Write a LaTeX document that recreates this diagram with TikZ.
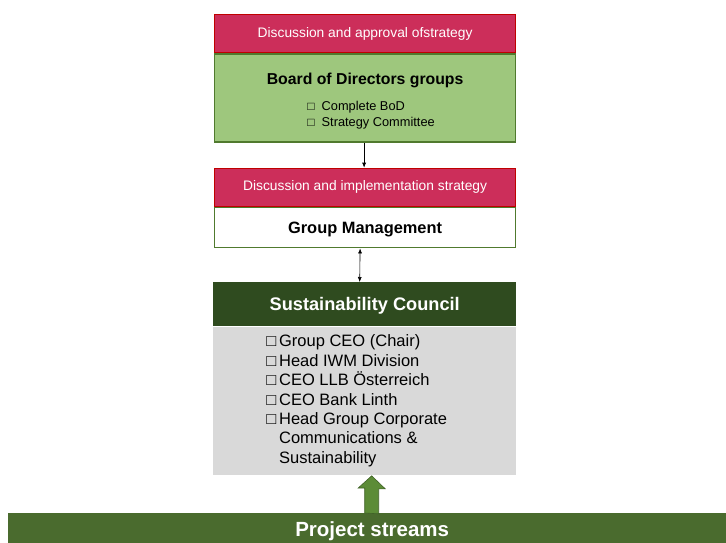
\documentclass[tikz,border=0pt]{standalone}
\usepackage{fontspec}
\setmainfont{Liberation Sans}
\usepackage{xcolor}
\usetikzlibrary{arrows.meta, positioning}

\definecolor{stratred}{RGB}{204,46,90}
\definecolor{stratredline}{RGB}{192,0,0}
\definecolor{bodgreen}{RGB}{158,199,125}
\definecolor{boxline}{RGB}{80,122,46}
\definecolor{councilgreen}{RGB}{47,75,31}
\definecolor{councilgray}{RGB}{217,217,217}
\definecolor{streamgreen}{RGB}{74,107,46}
\definecolor{uparrow}{RGB}{92,140,55}

\begin{document}
\begin{tikzpicture}[
  x=1pt, y=1pt,
  head/.style={draw=stratredline, line width=1.2pt, fill=stratred, text=white, minimum width=301pt, minimum height=38pt, font=\fontsize{13.8}{16}\selectfont},
  body/.style={draw=boxline, line width=1.5pt, minimum width=301pt, align=center},
  arr/.style={-{Latex[length=5pt,width=4pt]}, line width=0.6pt},
  dblarr/.style={{Latex[length=5pt,width=4pt]}-{Latex[length=5pt,width=4pt]}, line width=0.6pt},
  blockarr/.style={draw=uparrow!70!black, fill=uparrow, line width=0.6pt}
]
\useasboundingbox (0,0) rectangle (726,-542);

\node[head, anchor=north west] (appr) at (214,-14) {Discussion and approval ofstrategy};
\node[body, fill=bodgreen, minimum height=88pt, below=0pt of appr] (bod)
  {\rule{0pt}{20pt}{\bfseries\fontsize{15.8}{18}\selectfont Board of Directors groups}\\[11pt]
   {\fontsize{12.8}{16}\selectfont\begin{tabular}{@{\hspace{12pt}}l@{\hspace{7pt}}l@{}}{\fontsize{12}{12}\selectfont □} & Complete BoD\\{\fontsize{12}{12}\selectfont □} & Strategy Committee\end{tabular}}};

\node[head, below=25pt of bod] (impl) {Discussion and implementation strategy};
\node[body, fill=white, minimum height=40pt, below=0pt of impl, text depth=0pt,
  font=\bfseries\fontsize{16.4}{18}\selectfont] (gm) {Group Management};

\node[fill=councilgreen, text=white, minimum width=303pt, minimum height=44pt, anchor=north west, text depth=0pt,
  font=\bfseries\fontsize{18.2}{20}\selectfont] (sc) at (213,-282) {Sustainability Council};
\node[fill=councilgray, minimum width=303pt, minimum height=148pt, below=0pt of sc, align=left,
  font=\fontsize{16.5}{19.3}\selectfont] (members)
  {\rule{0pt}{4pt}\\[-4pt]\begin{tabular}{@{}l@{\,}l@{\hspace{16pt}}}
   □ & Group CEO (Chair)\\
   □ & Head IWM Division\\
   □ & CEO LLB Österreich\\
   □ & CEO Bank Linth\\
   □ & Head Group Corporate\\
     & Communications \&\\
     & Sustainability
   \end{tabular}};

\node[fill=streamgreen, text=white, minimum width=728pt, minimum height=32pt, anchor=north west,
  font=\bfseries\fontsize{20.5}{22}\selectfont, text depth=0pt] (streams) at (8,-513) {Project streams};

\coordinate (tip) at ([xshift=7pt, yshift=-1pt]members.south);
\draw[arr] ([xshift=-1pt]bod.south) -- ([xshift=-1pt]impl.north);
\draw[dblarr] ([xshift=-5pt]gm.south) -- ([xshift=-5pt]sc.north);
\draw[blockarr] ([xshift=-7pt]streams.north -| tip) -- ++(0,25) -- ++(-6.5,0)
  -- (tip) -- ++(13.5,-13) -- ++(-6.5,0) -- ++(0,-25) -- cycle;
\end{tikzpicture}
\end{document}
